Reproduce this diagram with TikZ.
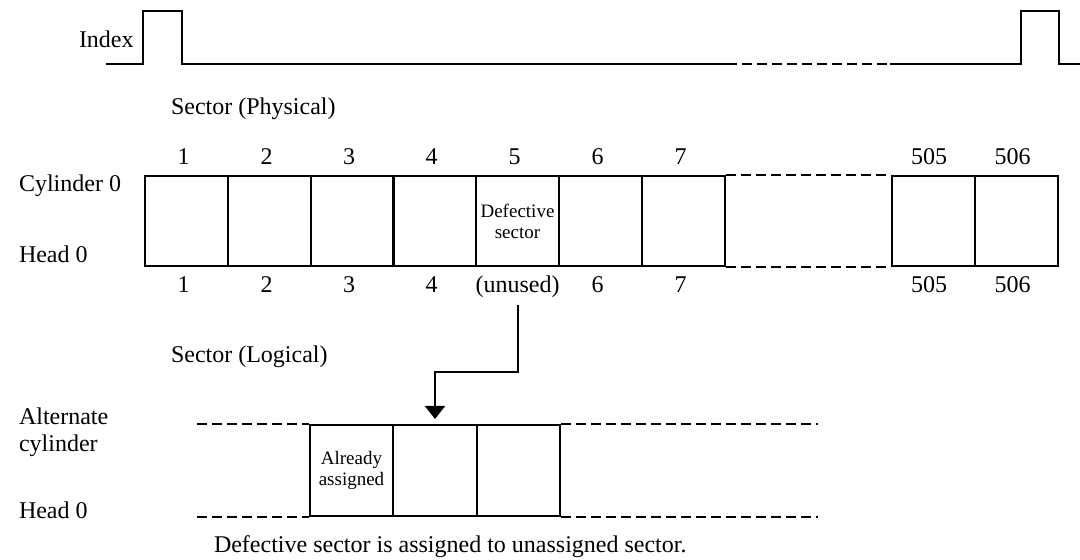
\documentclass[tikz,border=0pt]{standalone}
\usepackage{fontspec}
\setmainfont{Liberation Serif}
\usetikzlibrary{arrows.meta}
\begin{document}
\begin{tikzpicture}[x=0.5pt,y=-0.5pt,
  line width=1pt,
  every node/.style={font=\fontsize{12}{13.5}\selectfont},
  cell/.style={draw, minimum width=41.5pt, minimum height=45pt, inner sep=0pt},
  lcell/.style={draw, minimum width=41.75pt, minimum height=45.5pt, inner sep=0pt},
  smalltext/.style={font=\fontsize{9.5}{10.5}\selectfont, align=center},
  lab/.style={anchor=base, inner sep=0pt},
  lft/.style={anchor=base west, inner sep=0pt},
  dsh/.style={dash pattern=on 5pt off 2.5pt},
  arr/.style={-{Triangle[width=10pt,length=6.5pt]}}]
\useasboundingbox (0,0) rectangle (1080,560);

% Index waveform
\node[lft] (index) at (78,48) {Index};
\coordinate (w0) at (106,64);
\coordinate (w1) at (727,64);
\coordinate (w2) at (890,64);
\coordinate (w3) at (1080,64);
\draw (w0) -- (143,64) -- (143,11) -- (182,11) -- (182,64) -- (w1);
\draw[dsh] (w1) -- (w2);
\draw (w2) -- (1021,64) -- (1021,11) -- (1059,11) -- (1059,64) -- (w3);

% Physical sectors
\node[lft] (phys) at (170,115) {Sector (Physical)};
\node[lft] (cyl) at (18,192) {Cylinder 0};
\node[lft] (head1) at (18,263) {Head 0};

\node[cell] (T1) at (186.5,221) {};
\node[cell] (T2) at (269.5,221) {};
\node[cell] (T3) at (352,221) {};
\node[cell] (T4) at (434.5,221) {};
\node[cell, smalltext] (T5) at (517.5,221) {Defective\\sector};
\node[cell] (T6) at (600.5,221) {};
\node[cell] (T7) at (683.5,221) {};
\node[cell] (T505) at (933.5,221) {};
\node[cell] (T506) at (1016.5,221) {};
\draw[dsh] (T7.north east) -- (T505.north west);
\draw[dsh] (T7.south east) -- (T505.south west);

\node[lab] (p1) at (183.5,165) {1};
\node[lab] (p2) at (266.5,165) {2};
\node[lab] (p3) at (349,165) {3};
\node[lab] (p4) at (431.5,165) {4};
\node[lab] (p5) at (514.5,165) {5};
\node[lab] (p6) at (597.5,165) {6};
\node[lab] (p7) at (680.5,165) {7};
\node[lab] (p505) at (929,165) {505};
\node[lab] (p506) at (1012.5,165) {506};

\node[lab] (q1) at (183.5,293) {1};
\node[lab] (q2) at (266.5,293) {2};
\node[lab] (q3) at (349,293) {3};
\node[lab] (q4) at (431.5,293) {4};
\node[lab] (unused) at (517.5,293) {(unused)};
\node[lab] (q6) at (597.5,293) {6};
\node[lab] (q7) at (680.5,293) {7};
\node[lab] (q505) at (929,293) {505};
\node[lab] (q506) at (1012.5,293) {506};

% Logical / alternate cylinder
\node[lft] (logi) at (170,363) {Sector (Logical)};
\node[anchor=north west, align=left, inner sep=0pt] (alt) at (18,406.5) {Alternate\\cylinder};
\node[lft] (head2) at (18,518) {Head 0};

\node[lcell, smalltext] (L1) at (351.5,470.5) {Already\\assigned};
\node[lcell] (L2) at (435,470.5) {};
\node[lcell] (L3) at (518.5,470.5) {};
\coordinate (dl) at (197,0);
\coordinate (dr) at (818,0);
\draw[dsh] (L1.north west -| dl) -- (L1.north west);
\draw[dsh] (L1.south west -| dl) -- (L1.south west);
\draw[dsh] (L3.north east) -- (L3.north east -| dr);
\draw[dsh] (L3.south east) -- (L3.south east -| dr);

% Reassignment arrow
\coordinate (bendy) at (0,372);
\draw[arr, shorten <=3pt, shorten >=2.5pt] (unused.south) |- (L2.north |- bendy) -- (L2.north);

\node[lft] (caption) at (213,552) {Defective sector is assigned to unassigned sector.};
\end{tikzpicture}
\end{document}
